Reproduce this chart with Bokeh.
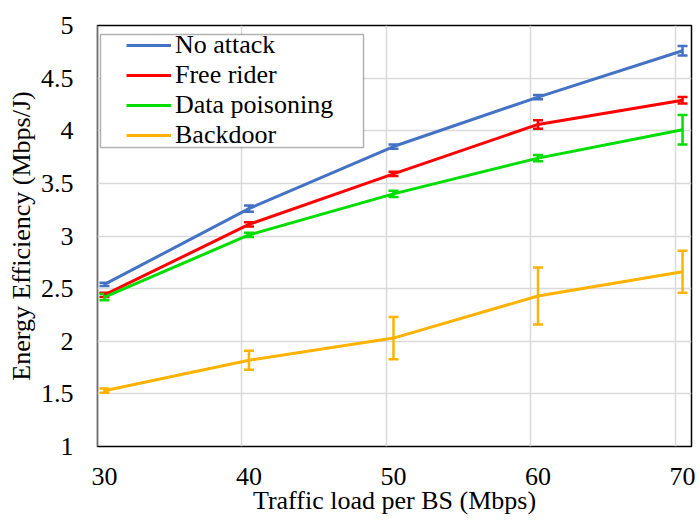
from bokeh.plotting import figure
from bokeh.models import (ColumnDataSource, Whisker, TeeHead, Legend, LegendItem,
                          FixedTicker, Range1d, BoxAnnotation)
from bokeh.embed import file_html
from bokeh.resources import INLINE

# ---- data ----
traffic = [30, 40, 50, 60, 70]
tick_labels = ["30", "40", "50", "60", "70"]
series_names = ["No attack", "Free rider", "Data poisoning", "Backdoor"]
no_attack = [2.54, 3.26, 3.85, 4.32, 4.76]
no_attack_err = [0.015, 0.03, 0.02, 0.02, 0.045]
free_rider = [2.44, 3.11, 3.59, 4.06, 4.29]
free_rider_err = [0.02, 0.02, 0.02, 0.04, 0.03]
data_poisoning = [2.42, 3.01, 3.40, 3.74, 4.01]
data_poisoning_err = [0.03, 0.02, 0.03, 0.03, 0.14]
backdoor = [1.53, 1.82, 2.03, 2.43, 2.66]
backdoor_err = [0.02, 0.09, 0.20, 0.27, 0.20]
y_ticks = [1, 1.5, 2, 2.5, 3, 3.5, 4, 4.5, 5]
grid_x = [29.5, 39.5, 49.5, 59.5, 69.5]

colors = ["#4472C4", "#FF0000", "#00DD00", "#FFB300"]
FONT = "Liberation Serif"

FRAME_H = 421
p = figure(width=700, height=521, output_backend="svg", toolbar_location=None,
           x_range=Range1d(29.52, 70.62), y_range=Range1d(1, 5),
           min_border_left=97, min_border_right=9, min_border_top=25, min_border_bottom=75)

p.outline_line_color = "black"
p.outline_line_width = 1.5
p.background_fill_color = "white"
p.border_fill_color = "white"

for ax in (p.xaxis[0], p.yaxis[0]):
    ax.axis_line_color = None
    ax.major_tick_line_color = None
    ax.minor_tick_line_color = None
    ax.major_label_text_font = FONT
    ax.major_label_text_font_size = "26px"
    ax.major_label_text_color = "black"
    ax.axis_label_text_font = FONT
    ax.axis_label_text_font_size = "26px"
    ax.axis_label_text_font_style = "normal"
    ax.axis_label_text_color = "black"

p.xaxis.ticker = FixedTicker(ticks=traffic)
p.xaxis.major_label_overrides = {t: s for t, s in zip(traffic, tick_labels)}
p.xaxis.major_label_standoff = 15
p.xaxis.axis_label = "Traffic load per BS (Mbps)"
p.xaxis.axis_label_standoff = -2

p.yaxis.ticker = FixedTicker(ticks=y_ticks)
p.yaxis.major_label_overrides = {1: "1", 2: "2", 3: "3", 4: "4", 5: "5"}
p.yaxis.major_label_standoff = 18
p.yaxis.axis_label = "Energy Efficiency (Mbps/J)"
p.yaxis.axis_label_standoff = 2

p.xgrid.ticker = FixedTicker(ticks=grid_x)
p.xgrid.grid_line_color = "#D9D9D9"
p.xgrid.grid_line_width = 1.5
p.ygrid.grid_line_color = "#D9D9D9"
p.ygrid.grid_line_width = 1.5

series = [(no_attack, no_attack_err), (free_rider, free_rider_err),
          (data_poisoning, data_poisoning_err), (backdoor, backdoor_err)]

items = []
for name, (vals, errs), c in zip(series_names, series, colors):
    src = ColumnDataSource(dict(x=traffic, y=vals,
                                lo=[v - e for v, e in zip(vals, errs)],
                                hi=[v + e for v, e in zip(vals, errs)]))
    r = p.line("x", "y", source=src, line_color=c, line_width=3)
    w = Whisker(source=src, base="x", lower="lo", upper="hi",
                line_color=c, line_width=2.5,
                upper_head=TeeHead(size=10, line_color=c, line_width=2.5),
                lower_head=TeeHead(size=10, line_color=c, line_width=2.5))
    p.add_layout(w)
    items.append(LegendItem(label=name, renderers=[r]))

# legend frame (screen units: x from frame left, y from frame bottom)
box = BoxAnnotation(left=3, right=266, top=FRAME_H - 9, bottom=FRAME_H - 9 - 113,
                    left_units="screen", right_units="screen",
                    top_units="screen", bottom_units="screen",
                    fill_color="white", fill_alpha=1.0,
                    line_color="black", line_width=1.5)
p.add_layout(box)

legend = Legend(items=items, location=(29, 296), padding=0, spacing=0,
                margin=0, label_height=28, glyph_height=28, glyph_width=45,
                label_standoff=4, border_line_alpha=0, background_fill_alpha=0,
                label_text_font=FONT, label_text_font_size="26px",
                label_text_color="black")
p.add_layout(legend)

open("out.html", "w").write(file_html(p, INLINE))
